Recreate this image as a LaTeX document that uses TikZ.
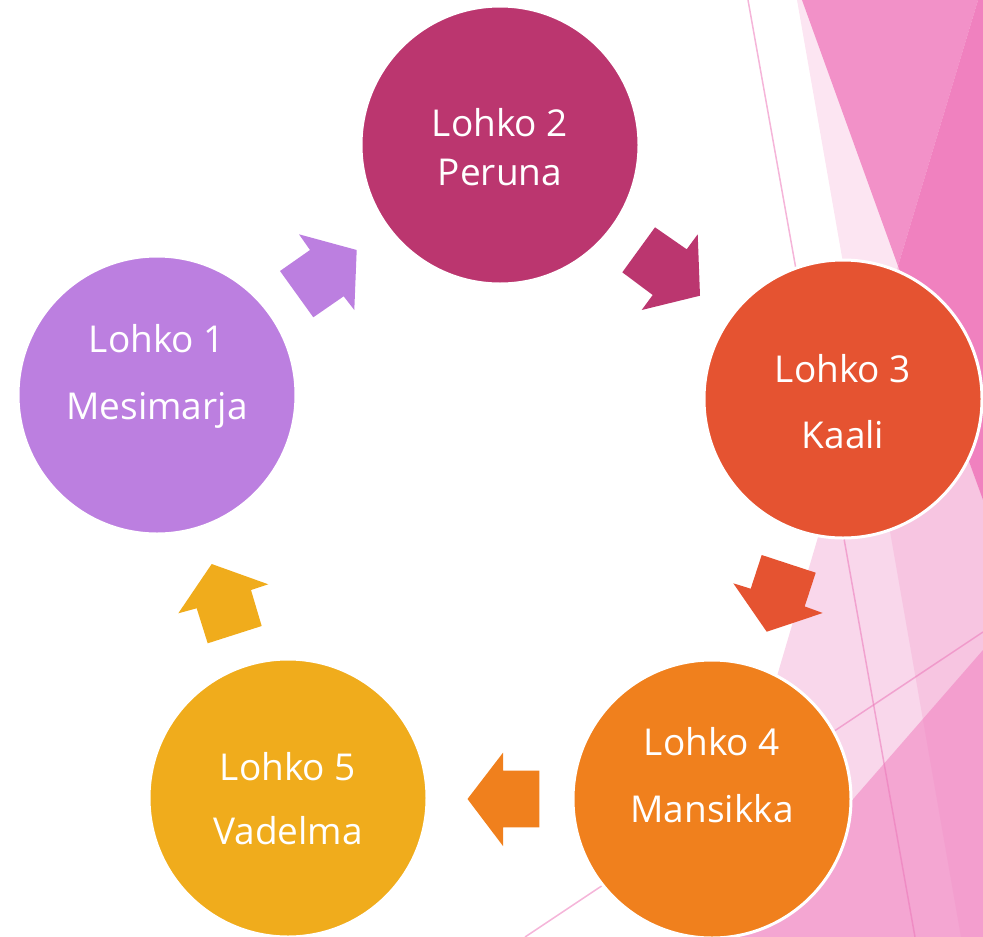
\documentclass[tikz,border=0pt]{standalone}
\usepackage{fontspec}
\setmainfont{Open Sans}
\definecolor{cpurple}{RGB}{188,127,224}
\definecolor{cmagenta}{RGB}{187,54,111}
\definecolor{cred}{RGB}{229,83,49}
\definecolor{corange}{RGB}{240,128,29}
\definecolor{cyellow}{RGB}{240,172,28}
\definecolor{pkS}{RGB}{249,215,235}
\definecolor{pkT}{RGB}{244,166,210}
\definecolor{pkW}{RGB}{240,129,191}
\definecolor{pkM}{RGB}{242,145,200}
\definecolor{pkD}{RGB}{240,129,191}
\definecolor{pkL}{RGB}{236,120,185}
\tikzset{
  blob/.style={circle,draw=white,line width=3pt,minimum size=278pt,inner sep=0pt},
  lbl/.style={anchor=base,text=white,font=\fontsize{37}{44}\selectfont,inner sep=0pt},
  thinline/.style={draw=pkL,draw opacity=0.55,line width=1.5pt},
}
\begin{document}
\begin{tikzpicture}[x=1pt,y=-1pt]
\useasboundingbox (0,0) rectangle (983,937);
\begin{scope}
\clip (0,0) rectangle (983,937);
% background facets
\fill[pkS] (898,266) -- (983,500) -- (983,937) -- (700,937) -- cycle;
\fill[pkT] (983,650) -- (733,937) -- (983,937) -- cycle;
\fill[pkW,fill opacity=0.206] (797,0) -- (983,0) -- (983,937) -- (961,937) -- cycle;
\fill[pkM] (802,0) -- (978,0) -- (898,266) -- cycle;
\fill[pkD] (978,0) -- (983,0) -- (983,500) -- (898,266) -- cycle;
\coordinate (t1s) at (748,0);
\coordinate (t1e) at (915,937);
\coordinate (t2s) at (525,937);
\coordinate (t2e) at (983,632);
\draw[thinline] (t1s) -- (t1e);
\draw[thinline] (t2s) -- (t2e);
\end{scope}
% block arrows
\fill[cpurple] (280,271) -- (310,250) -- (299,234.3) -- (356.7,250) -- (354.3,310) -- (343.7,296.3) -- (313.3,317.3) -- cycle;
\fill[cmagenta] (655,227.3) -- (686.7,249.3) -- (697.7,234.3) -- (700,295.7) -- (641.7,310) -- (652.7,295) -- (622.3,272.3) -- cycle;
\fill[cred] (761.7,555) -- (815.7,572.7) -- (804.7,606.4) -- (822.7,613) -- (766.7,631.7) -- (733.3,583.3) -- (750.7,588.7) -- cycle;
\fill[corange] (539.3,770.7) -- (539.3,827.3) -- (503,827.3) -- (503,846) -- (467.5,799) -- (503,752.7) -- (503,770.7) -- cycle;
\fill[cyellow] (261.7,626) -- (207.7,643.3) -- (196.7,608.3) -- (178.3,613.3) -- (211.7,564) -- (268.3,584.3) -- (251,590) -- cycle;
% circles
\node[blob,fill=cpurple] (c1) at (157,395) {};
\node[blob,fill=cmagenta] (c2) at (500,145) {};
\node[blob,fill=cred] (c3) at (843,399) {};
\node[blob,fill=corange] (c4) at (712,799) {};
\node[blob,fill=cyellow] (c5) at (288,798) {};
% labels
\node[lbl] (l1a) at (157,352) {Lohko 1};
\node[lbl] (l1b) at (157,419) {Mesimarja};
\node[lbl] (l2a) at (500,136) {Lohko 2};
\node[lbl] (l2b) at (500,185) {Peruna};
\node[lbl] (l3a) at (843,382) {Lohko 3};
\node[lbl] (l3b) at (843,448) {Kaali};
\node[lbl] (l4a) at (712,755) {Lohko 4};
\node[lbl] (l4b) at (712,822) {Mansikka};
\node[lbl] (l5a) at (288,780) {Lohko 5};
\node[lbl] (l5b) at (288,844) {Vadelma};
\end{tikzpicture}
\end{document}
